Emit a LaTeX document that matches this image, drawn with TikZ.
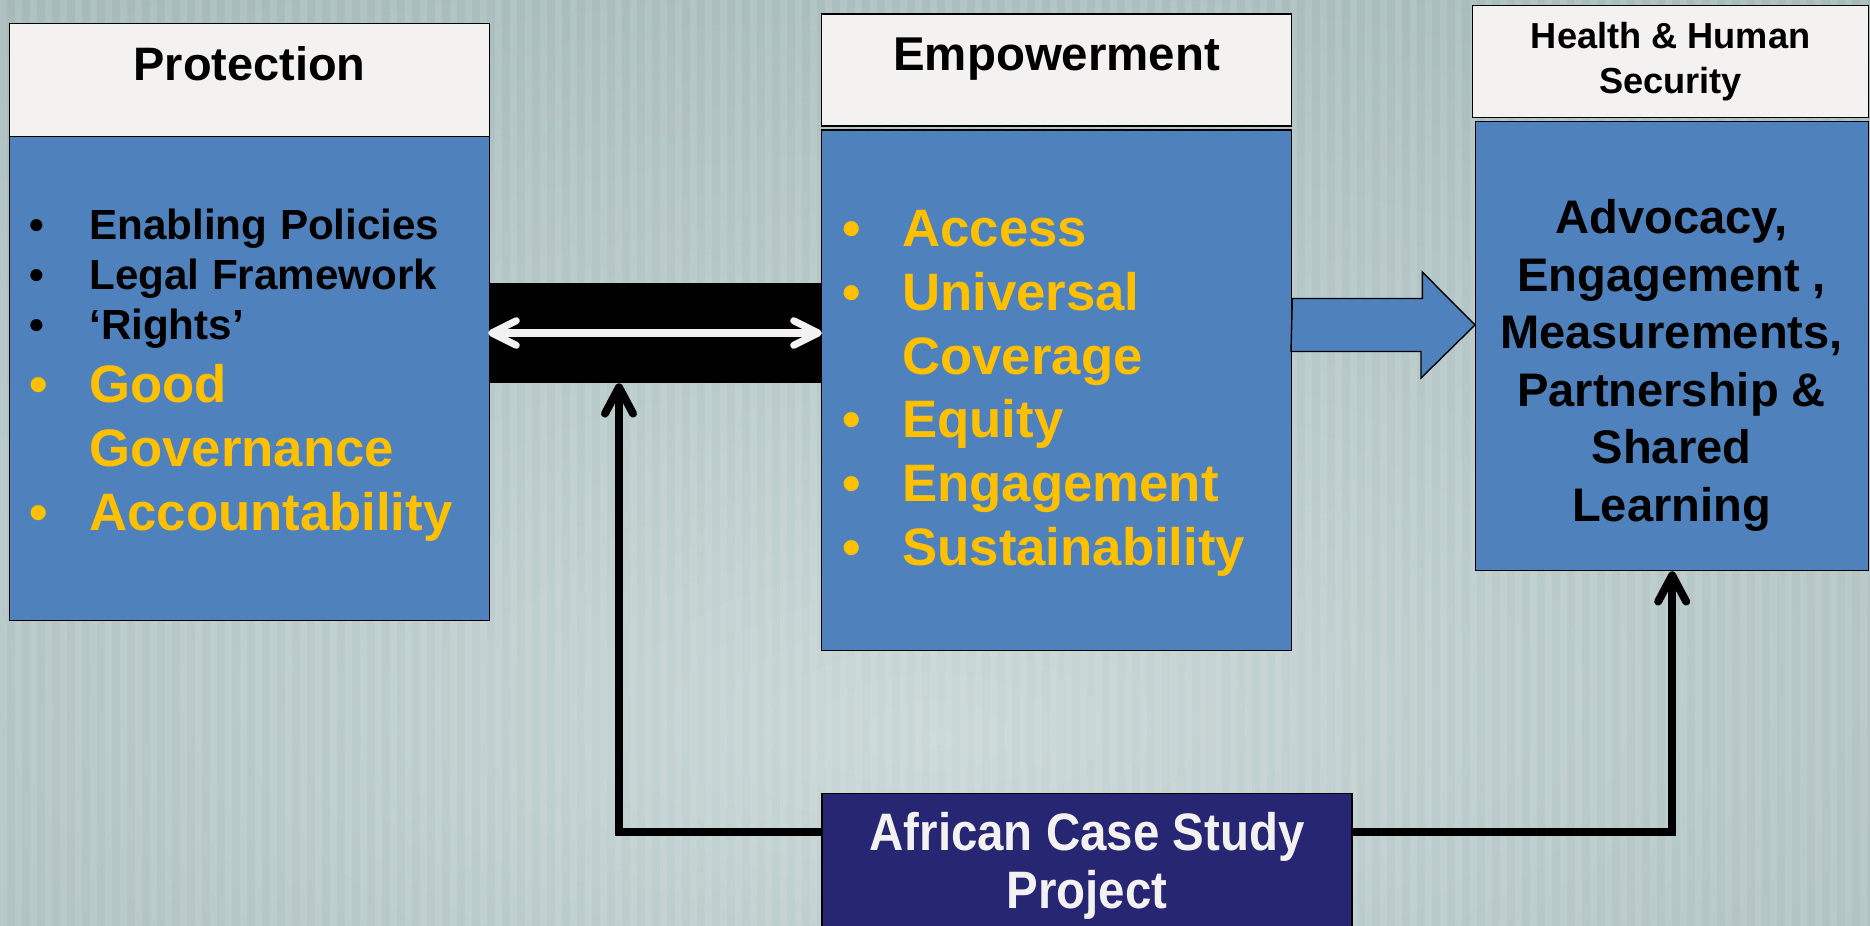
\documentclass[tikz,border=0pt]{standalone}
\usepackage{fontspec}
\setmainfont{Liberation Sans}
\newfontfamily\narrowfont{Liberation Sans}[FakeStretch=0.9]
\usepackage{tikz}
\usetikzlibrary{arrows.meta}
\usetikzlibrary{calc}
\definecolor{slideblue}{HTML}{4F81BD}
\definecolor{headwhite}{HTML}{F4F1F1}
\definecolor{gold}{HTML}{FFC000}
\definecolor{navy}{HTML}{262673}
\definecolor{bglight}{HTML}{CBD8D8}
\definecolor{bgmid}{HTML}{B9CACA}
\definecolor{bgdark}{HTML}{A4B8B8}
\pgfdeclareradialshading{slidebg}{\pgfpoint{0bp}{-15bp}}{color(0bp)=(bglight); color(18bp)=(bgmid); color(45bp)=(bgdark); color(100bp)=(bgdark)}
\setlength{\parindent}{0pt}
\newcommand{\smallitems}{\fontsize{24}{28.35}\selectfont}
\newcommand{\bigitems}{\fontsize{30}{36.3}\selectfont}
\newcommand{\bul}{\makebox[1.2cm][l]{•}}
\newcommand{\nobul}{\makebox[1.2cm][l]{}}
\newcommand{\gap}{\hspace*{0.3em}}
\tikzset{
  head box/.style={draw=black, line width=0.8pt, fill=headwhite, inner sep=0pt,
    anchor=north west, font=\bfseries},
  body box/.style={draw=black, line width=0.8pt, fill=slideblue, inner sep=0pt,
    anchor=north west},
  item list/.style={inner sep=0pt, anchor=north west, align=left, text width=9cm,
    font=\bfseries},
  link/.style={line width=4.5pt, -{Straight Barb[round,length=15pt,width=16pt]}},
  both ways/.style={headwhite, line width=4pt,
    {Straight Barb[round,length=14pt,width=14pt]}-{Straight Barb[round,length=14pt,width=14pt]}},
  block arrow/.style={draw=black, line width=0.8pt, fill=slideblue, line join=miter}
}

\begin{document}
\begin{tikzpicture}[x=0.02cm, y=-0.02cm]
    \useasboundingbox (0,0) rectangle (1870,926);
    \shade[shading=slidebg] (0,0) rectangle (1870,926);
    \foreach \x in {0,15,...,1860}
        \fill[white, opacity=0.1] (\x,0) rectangle ++(7,926);

    \node[fill=black, minimum width=6.66cm, minimum height=2cm, inner sep=0pt] (band) at (655,333) {};

    \node[head box, minimum width=9.6cm, minimum height=2.26cm, text height=0.6cm, text depth=0.6cm,
        font=\bfseries\fontsize{26.7}{32}\selectfont] (protH) at (9,23) {Protection};
    \node[body box, minimum width=9.6cm, minimum height=9.68cm] (protB) at (9,136) {};
    \node[item list] (protL) at (29,208.5) {\smallitems\bul Enabling\gap Policies\par
        \bul Legal\gap Framework\par
        \bul ‘Rights’\par
        \bigitems\color{gold}\bul Good\par
        \nobul Governance\par
        \bul Accountability\par};

    \node[head box, minimum width=9.4cm, minimum height=2.24cm, text height=0.6cm, text depth=0.6cm,
        font=\bfseries\fontsize{27}{32}\selectfont] (empH) at (821,13.5) {Empowerment};
    \node[body box, minimum width=9.4cm, minimum height=10.41cm] (empB) at (821,129.5) {};
    \node[item list, text=gold] (empL) at (842,210) {\bigitems\bul Access\par
        \bul Universal\par
        \nobul Coverage\par
        \bul Equity\par
        \bul Engagement\par
        \bul Sustainability\par};

    \node[head box, minimum width=7.92cm, minimum height=2.24cm, align=center,
        font=\bfseries\fontsize{20.6}{25.9}\selectfont] (hhsH) at (1472,5) {Health \& Human\\Security};
    \node[body box, minimum width=7.86cm, minimum height=8.98cm] (hhsB) at (1475,121) {};
    \node[inner sep=0pt, anchor=north, align=center,
        font=\bfseries\fontsize{26.8}{32.8}\selectfont] (hhsL) at (1671.5,199)
        {Advocacy,\\Engagement ,\\Measurements,\\Partnership \&\\Shared\\Learning};

    \node[draw=black, line width=0.8pt, fill=navy, text=headwhite, anchor=north, align=center,
        minimum width=10.6cm, inner xsep=0pt, inner ysep=0.37cm,
        font=\narrowfont\bfseries\fontsize{30}{32.9}\selectfont] (case) at (1087,793)
        {African Case Study\\Project};

    \draw[both ways] (band.west) -- (band.east);
    \coordinate (fwd) at (1291,325);
    \filldraw[block arrow] (empB.east |- fwd) ++(0,-26.5) -- ++(130,0) -- ++(0,-26.5)
        -- (hhsB.west |- fwd) -- ++(-54,53) -- ++(0,-26.5) -- ++(-130,0) -- cycle;

    \draw[link] ([yshift=-0.78cm]case.north west) -| ([xshift=-0.72cm]band.south);
    \draw[link] ([yshift=-0.78cm]case.north east) -| (hhsB.south);
\end{tikzpicture}
\end{document}
